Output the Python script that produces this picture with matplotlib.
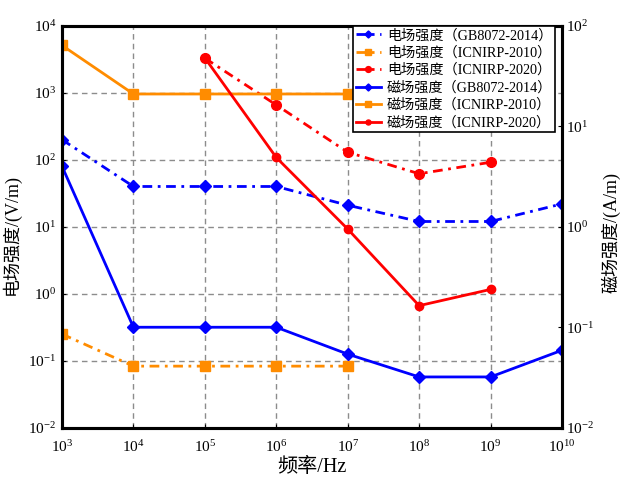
import numpy as np
import matplotlib
matplotlib.use('Agg')
import matplotlib.pyplot as plt

plt.rcParams['font.family'] = ['Liberation Serif', 'Noto Sans CJK SC']
plt.rcParams['mathtext.fontset'] = 'cm'

# frequency points (Hz)
freq = [1e3, 1e4, 1e5, 1e6, 1e7, 1e8, 1e9, 1e10]

# electric field, left axis (V/m)
e_gb_f = freq
e_gb = [200, 40, 40, 40, 21, 12, 12, 22]
e_ic10_f = [1e3, 1e4, 1e5, 1e6, 1e7]
e_ic10 = [0.25, 0.083, 0.083, 0.083, 0.083]
e_ic20_f = [1e5, 1e6, 1e7, 1e8, 1e9]
e_ic20 = [3300, 660, 130, 62, 92]

# magnetic field, right axis (A/m)
h_gb_f = freq
h_gb = [4.0, 0.1, 0.1, 0.1, 0.054, 0.032, 0.032, 0.059]
h_ic10_f = [1e3, 1e4, 1e5, 1e6, 1e7]
h_ic10 = [64, 21, 21, 21, 21]
h_ic20_f = [1e5, 1e6, 1e7, 1e8, 1e9]
h_ic20 = [48, 4.9, 0.95, 0.164, 0.238]

labels = ['电场强度（GB8072-2014）', '电场强度（ICNIRP-2010）', '电场强度（ICNIRP-2020）',
          '磁场强度（GB8072-2014）', '磁场强度（ICNIRP-2010）', '磁场强度（ICNIRP-2020）']

blue = '#0000FF'
orange = '#FF8C00'
red = '#FF0000'
dd = (3.5, 2, 1, 2)

fig = plt.figure(figsize=(6.22, 4.80), dpi=100)
ax = fig.add_axes([0.0997, 0.109, 0.8038, 0.837])
ax2 = ax.twinx()

lw = 2
h1, = ax.plot(e_gb_f, e_gb, color=blue, lw=lw, dashes=dd, marker='D', ms=6, label=labels[0])
h2, = ax.plot(e_ic10_f, e_ic10, color=orange, lw=lw, dashes=dd, marker='s', ms=7, label=labels[1])
h3, = ax.plot(e_ic20_f, e_ic20, color=red, lw=lw, dashes=dd, marker='o', ms=7, label=labels[2])
h4, = ax2.plot(h_gb_f, h_gb, color=blue, lw=lw, marker='D', ms=6, label=labels[3])
h5, = ax2.plot(h_ic10_f, h_ic10, color=orange, lw=lw, marker='s', ms=7, label=labels[4])
h6, = ax2.plot(h_ic20_f, h_ic20, color=red, lw=lw, marker='o', ms=6, label=labels[5])

ax.set_xscale('log')
ax.set_yscale('log')
ax2.set_yscale('log')
ax.set_xlim(1e3, 1e10)
ax.set_ylim(1e-2, 1e4)
ax2.set_ylim(1e-2, 1e2)

ax.set_xticks([10.0**k for k in range(3, 11)])
ax.set_yticks([10.0**k for k in range(-2, 5)])
ax2.set_yticks([10.0**k for k in range(-2, 3)])
ax.minorticks_off()
ax2.minorticks_off()

ax.grid(True, color='#8c8c8c', linestyle=(0, (4, 3)), linewidth=1)
ax.tick_params(axis='x', direction='in', labelsize=11, length=3, pad=8)
ax.tick_params(axis='y', direction='in', labelsize=11, length=3, pad=4)
ax2.tick_params(direction='in', labelsize=11, length=3, pad=3)

for a in (ax, ax2):
    for s in a.spines.values():
        s.set_linewidth(2.2)

ax.set_xlabel('频率/Hz', fontsize=14.5, labelpad=2)
ax.set_ylabel('电场强度/(V/m)', fontsize=13)
ax2.set_ylabel('磁场强度/(A/m)', fontsize=13)
ax.yaxis.set_label_coords(-0.082, 0.48)
ax2.yaxis.set_label_coords(1.078, 0.485)

leg = ax2.legend(handles=[h1, h2, h3, h4, h5, h6], loc='upper right',
                 bbox_to_anchor=(0.986, 1.0), borderaxespad=0, fontsize=10.2,
                 fancybox=False, framealpha=1, edgecolor='black',
                 handlelength=1.8, numpoints=1, markerscale=0.6,
                 labelspacing=0.28, borderpad=0.2, handletextpad=0.4)
leg.get_frame().set_linewidth(1.2)

fig.savefig('out.png', dpi=100)
